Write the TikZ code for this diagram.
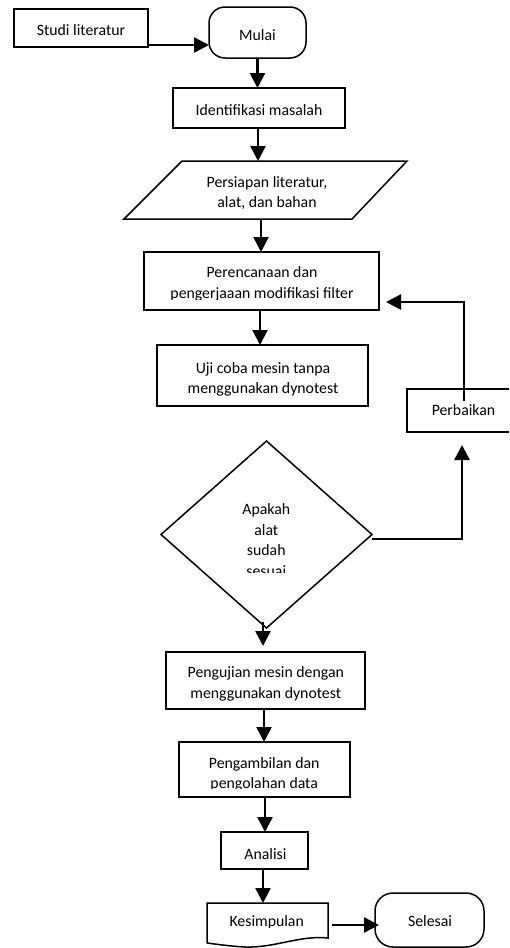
\documentclass[tikz,border=0pt]{standalone}
\usepackage{fontspec}
\setmainfont{Carlito}
\usetikzlibrary{arrows.meta,shapes.geometric,calc}
\begin{document}
\begin{tikzpicture}[x=1pt,y=-1pt,
  box/.style={draw,line width=1.5pt,rectangle,inner sep=0pt,outer sep=0pt},
  ghost/.style={rectangle,inner sep=0pt,outer sep=0pt},
  term/.style={draw,line width=1.5pt,rectangle,rounded corners=16pt,inner sep=0pt,outer sep=0pt},
  outline/.style={line width=1.5pt,line join=miter},
  lbl/.style={font=\fontsize{15.8}{#1}\selectfont,align=center,inner sep=0pt,anchor=base},
  lbl/.default=20,
  arr/.style={line width=2.5pt,-{Triangle[length=15pt,width=15pt]}},
]
\useasboundingbox (0,0) rectangle (509,948);

% shapes
\node[box,minimum width=134pt,minimum height=38pt] (studi) at (81,28) {};
\node[term,minimum width=97pt,minimum height=51pt] (mulai) at (257.5,32.5) {};
\node[box,minimum width=172pt,minimum height=40pt] (ident) at (259,108) {};
\node[ghost,minimum width=283pt,minimum height=58pt] (pers) at (265.5,190) {};
\draw[outline] (182,161) -- (407,161) -- (352,219) -- (124,219) -- cycle;
\node[box,minimum width=235pt,minimum height=58pt] (perenc) at (261.5,281) {};
\node[box,minimum width=211pt,minimum height=61pt] (uji) at (262.5,375.5) {};
\node[ghost,minimum width=112pt,minimum height=43pt] (perb) at (463,410.5) {};
\draw[outline] (509,389) -- (407,389) -- (407,432) -- (509,432);
\node[draw,line width=1.5pt,shape=diamond,inner sep=0pt,outer sep=0pt,minimum width=211pt,minimum height=187pt] (dia) at (266.5,534.5) {};
\node[box,minimum width=199pt,minimum height=57pt] (uji2) at (265.5,680.5) {};
\node[box,minimum width=171pt,minimum height=55pt] (ambil) at (264.5,769.5) {};
\node[box,minimum width=87pt,minimum height=37pt] (analisi) at (264.5,850.5) {};
\node[ghost,minimum width=121pt,minimum height=40pt] (kes) at (267.5,923) {};
\draw[outline] (kes.south west) -- (kes.north west) -- (kes.north east) -- (328,938)
  .. controls (300,935) and (275,948) .. (245,947)
  .. controls (228,946) and (215,944) .. (kes.south west);
\node[term,rounded corners=18pt,minimum width=109pt,minimum height=54pt] (selesai) at (429.5,920) {};

% texts (anchor = baseline of the last line)
\node[lbl] (tstudi) at (81,35) {Studi literatur};
\node[lbl] (tmulai) at (257.5,40.5) {Mulai};
\node[lbl] (tident) at (259,115) {Identifikasi masalah};
\node[lbl] (tpers) at (267,207) {Persiapan literatur,\\alat, dan bahan};
\begin{scope}
  \clip (144,252) rectangle (379,299.5);
  \node[lbl=21] (tperenc) at (262,298) {Perencanaan dan\\pengerjaaan modifikasi filter};
\end{scope}
\node[lbl] (tuji) at (263,393) {Uji coba mesin tanpa\\menggunakan dynotest};
\node[lbl] (tperb) at (463.5,415) {Perbaikan};
\begin{scope}
  \clip (160,440) rectangle (372,572.3);
  \node[lbl=20.5] (tdia) at (266.3,576) {Apakah\\alat\\sudah\\sesuai};
\end{scope}
\begin{scope}
  \clip (166,652) rectangle (365,700);
  \node[lbl=21] (tuji2) at (265.8,698.3) {Pengujian mesin dengan\\menggunakan dynotest};
\end{scope}
\begin{scope}
  \clip (179,742) rectangle (350,788.3);
  \node[lbl] (tambil) at (264.2,788.5) {Pengambilan dan\\pengolahan data};
\end{scope}
\node[lbl] (tanalisi) at (265.5,859) {Analisi};
\begin{scope}
  \clip (207,903) rectangle (328,927.8);
  \node[lbl] (tkes) at (266.7,926.7) {Kesimpulan};
\end{scope}
\node[lbl] (tsel) at (430,926.7) {Selesai};

% connectors
\draw[arr] ([yshift=2pt]studi.south east) -- ([yshift=2pt]studi.south east -| mulai.west);
\draw[arr] (mulai.south) -- (mulai.south |- ident.north);
\draw[arr] ([xshift=-1pt]ident.south) -- ([xshift=-1pt]ident.south |- pers.north);
\draw[arr] ([xshift=-4.5pt]pers.south) -- ([xshift=-4.5pt]pers.south |- perenc.north);
\draw[arr] ([xshift=-1.5pt]perenc.south) -- ([xshift=-1.5pt]perenc.south |- uji.north);
\draw[arr] ([xshift=1pt,yshift=-12pt]perb.north) |- ([xshift=7pt,yshift=-21pt]perenc.east);
\draw[arr] ([yshift=-4.5pt]dia.east) -| ([xshift=-1pt,yshift=-13pt]perb.south);
\draw[arr] ([xshift=-3.5pt,yshift=6pt]dia.south) -- ([xshift=-3.5pt,yshift=6pt]dia.south |- uji2.north);
\draw[arr] ([xshift=-1.5pt]uji2.south) -- ([xshift=-1.5pt]uji2.south |- ambil.north);
\draw[arr] ([xshift=0.5pt]ambil.south) -- ([xshift=0.5pt]ambil.south |- analisi.north);
\draw[arr] ([xshift=-1.5pt]analisi.south) -- ([xshift=-1.5pt]analisi.south |- kes.north);
\draw[arr] ([xshift=4pt,yshift=-2pt]kes.east) -- ([xshift=4pt,yshift=-2pt]kes.east -| selesai.west);
\end{tikzpicture}
\end{document}
